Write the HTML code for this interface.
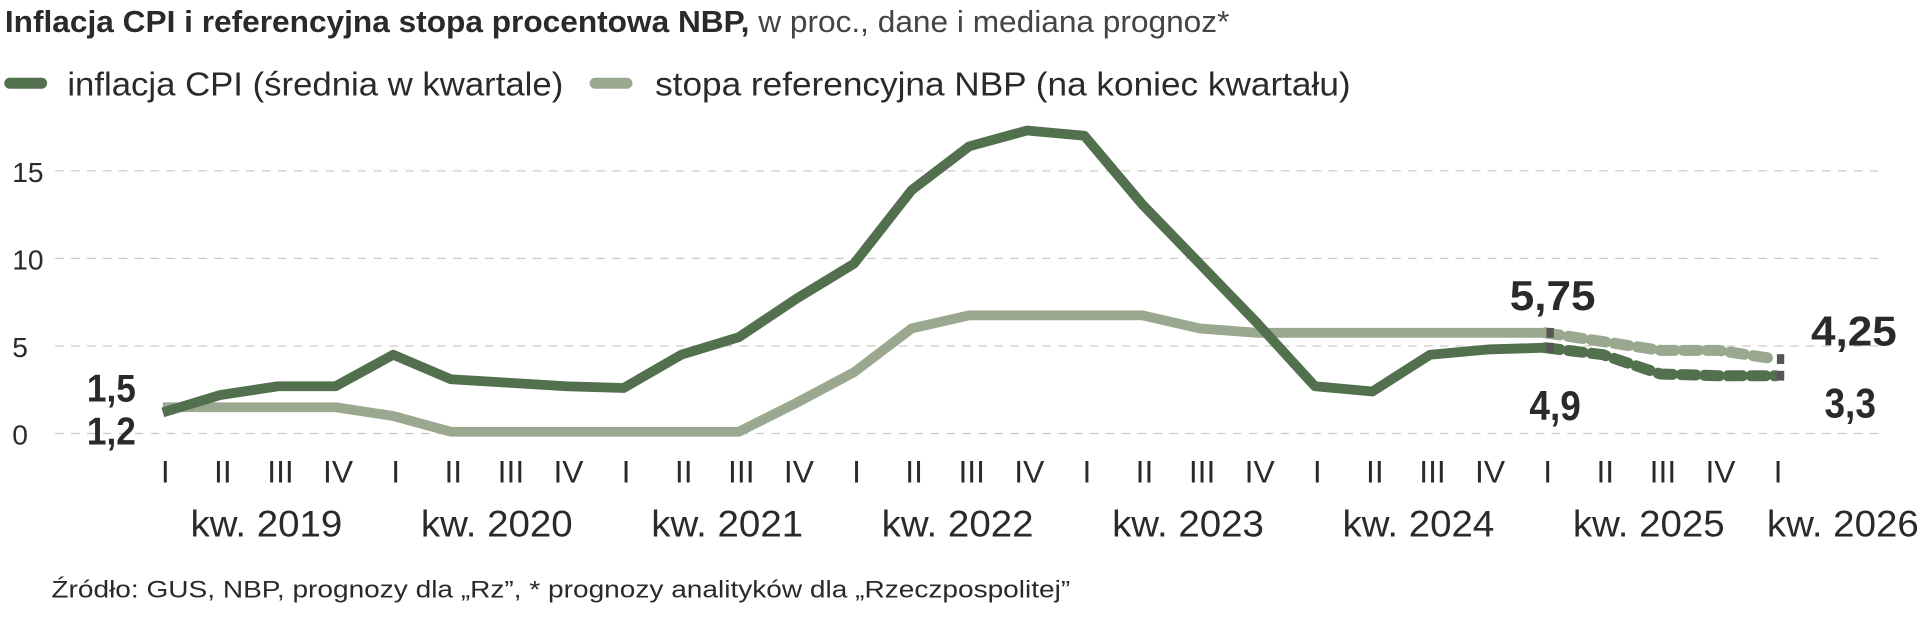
<!DOCTYPE html>
<html><head><meta charset="utf-8"><style>
html,body{margin:0;padding:0;background:#fff;}
svg{display:block;}
text{font-family:"Liberation Sans Narrow","Liberation Sans",sans-serif;fill:#2a2a2a;}
</style></head><body>
<svg id="chart" width="1920" height="627" viewBox="0 0 1568 512" preserveAspectRatio="none" xmlns="http://www.w3.org/2000/svg">
<text x="4" y="26" font-size="25" textLength="1000" lengthAdjust="spacingAndGlyphs"><tspan font-weight="bold">Inflacja CPI i referencyjna stopa procentowa NBP,</tspan><tspan fill="#444"> w proc., dane i mediana prognoz*</tspan></text>
<g>
<line x1="8" y1="68" x2="34" y2="68" stroke="#52704e" stroke-width="9" stroke-linecap="round"/>
<text x="55" y="78" font-size="27" textLength="405" lengthAdjust="spacingAndGlyphs" fill="#333">inflacja CPI (średnia w kwartale)</text>
<line x1="486" y1="68" x2="512" y2="68" stroke="#9aa88f" stroke-width="9" stroke-linecap="round"/>
<text x="535" y="78" font-size="27" textLength="568" lengthAdjust="spacingAndGlyphs" fill="#333">stopa referencyjna NBP (na koniec kwartału)</text>
</g>
<g id="grid"></g><g id="lines"></g><g id="axis"></g>
<text x="91" y="328" font-size="32" font-weight="bold" text-anchor="middle" textLength="40" lengthAdjust="spacingAndGlyphs">1,5</text>
<text x="91" y="363" font-size="32" font-weight="bold" text-anchor="middle" textLength="40" lengthAdjust="spacingAndGlyphs">1,2</text>
<text x="1268" y="253" font-size="34" font-weight="bold" text-anchor="middle" textLength="70" lengthAdjust="spacingAndGlyphs">5,75</text>
<text x="1270" y="343" font-size="34" font-weight="bold" text-anchor="middle" textLength="42" lengthAdjust="spacingAndGlyphs">4,9</text>
<text x="1514" y="282" font-size="34" font-weight="bold" text-anchor="middle" textLength="70" lengthAdjust="spacingAndGlyphs">4,25</text>
<text x="1511" y="341" font-size="34" font-weight="bold" text-anchor="middle" textLength="42" lengthAdjust="spacingAndGlyphs">3,3</text>
<text x="42" y="488" font-size="20" textLength="832" lengthAdjust="spacingAndGlyphs" fill="#333">Źródło: GUS, NBP, prognozy dla „Rz”, * prognozy analityków dla „Rzeczpospolitej”</text>
</svg>
<script>
const quarters=["I","II","III","IV","I","II","III","IV","I","II","III","IV","I","II","III","IV","I","II","III","IV","I","II","III","IV","I","II","III","IV","I"];
const years=["kw. 2019","kw. 2020","kw. 2021","kw. 2022","kw. 2023","kw. 2024","kw. 2025","kw. 2026"];
const yTicks=[0,5,10,15];
const cpi=[1.2,2.2,2.7,2.7,4.5,3.1,2.9,2.7,2.6,4.5,5.5,7.7,9.7,13.9,16.4,17.3,17.0,13.1,9.7,6.3,2.7,2.4,4.5,4.8,4.9,4.5,3.4,3.3,3.3];
const rate=[1.5,1.5,1.5,1.5,1.0,0.1,0.1,0.1,0.1,0.1,0.1,1.75,3.5,6.0,6.75,6.75,6.75,6.75,6.0,5.75,5.75,5.75,5.75,5.75,5.75,5.25,4.75,4.75,4.25];
const actualCount=25;
const NS="http://www.w3.org/2000/svg";
const x=i=>133+i*47.04;
const y=v=>354-v*14.3;
function mk(tag,attrs,parent){const e=document.createElementNS(NS,tag);for(const k in attrs)e.setAttribute(k,attrs[k]);parent.appendChild(e);return e;}
const grid=document.getElementById('grid'),lines=document.getElementById('lines'),axis=document.getElementById('axis');
yTicks.forEach(t=>{
 const l=mk('line',{x1:45,x2:1540,y1:y(t),y2:y(t),stroke:'#cfcac8','stroke-width':1,'stroke-dasharray':'7 6'},grid);
 
 
 const tx=mk('text',{x:10,y:y(t)+9,'font-size':23,fill:'#444'},grid);
 tx.textContent=t;
 
 
});
function pts(arr,a,b){let s=[];for(let i=a;i<=b;i++)s.push(x(i)+','+y(arr[i]));return s.join(' ');}
function series(arr,color,name){
 const p=mk('polyline',{points:pts(arr,0,actualCount-1),fill:'none',stroke:color,'stroke-width':8,'stroke-linejoin':'round'},lines);
 
 
 const f=mk('polyline',{points:pts(arr,actualCount-1,arr.length-1),fill:'none',stroke:color,'stroke-width':9,'stroke-linecap':'round','stroke-dasharray':'12 7'},lines);
 
 
 [actualCount-1,arr.length-1].forEach(i=>{
  const r=mk('rect',{x:x(i)+1,y:y(arr[i])-4,width:6,height:8,fill:'#555'},lines);
  
  
 });
}
series(rate,'#9aa88f','rate');
series(cpi,'#52704e','cpi');
quarters.forEach((q,i)=>{
 const t=mk('text',{x:x(i)+2,y:394,'font-size':26,'text-anchor':'middle',fill:'#333'},axis);
 t.textContent=q;
 
 
});
years.forEach((yr,k)=>{
 const cx=k<7?x(k*4+1.5)+14:1505;
 const t=mk('text',{x:cx,y:438,'font-size':30,'text-anchor':'middle',fill:'#333',textLength:124,lengthAdjust:'spacingAndGlyphs'},axis);
 t.textContent=yr;
 
 
});
</script>
</body></html>
